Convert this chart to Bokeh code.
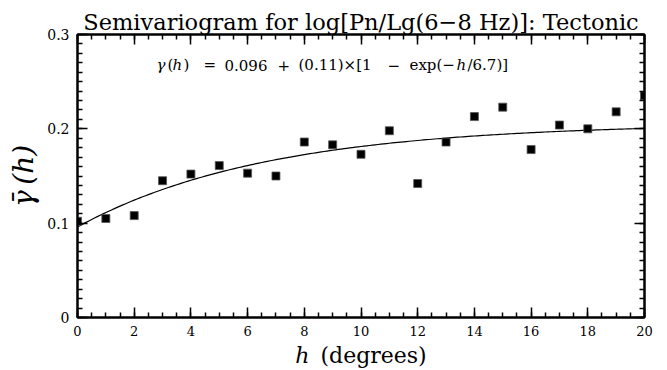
import numpy as np
from bokeh.plotting import figure
from bokeh.models import LinearAxis, FixedTicker, Label, Range1d
from bokeh.embed import file_html
from bokeh.resources import INLINE

# ---------------- data ----------------
h_lags = list(range(21))
gamma_bar = [0.102, 0.105, 0.108, 0.145, 0.152, 0.161, 0.153, 0.150, 0.186, 0.183,
             0.173, 0.198, 0.142, 0.186, 0.213, 0.223, 0.178, 0.204, 0.200, 0.218, 0.235]

# exponential model parameters (from the annotation)
nugget = 0.096
partial_sill = 0.11
range_param = 6.7

x_ticks = [0, 2, 4, 6, 8, 10, 12, 14, 16, 18, 20]
x_minor = [i * 0.5 for i in range(41)]
y_ticks = [0, 0.1, 0.2, 0.3]
y_tick_labels = ["0", "0.1", "0.2", "0.3"]
y_minor = [round(i * 0.01, 2) for i in range(31)]

title_text = "Semivariogram for log[Pn/Lg(6\u22128 Hz)]: Tectonic"
x_label = "\u210e\u2002(degrees)"
y_label = "\u03b3\u0304\u2009(h)"
FONT = "DejaVu Serif"

# model curve
h_curve = np.linspace(0, 20, 201)
g_curve = nugget + partial_sill * (1 - np.exp(-h_curve / range_param))

p = figure(width=667, height=370, x_range=Range1d(0, 20), y_range=Range1d(0, 0.3),
           output_backend="svg", toolbar_location=None, title=title_text,
           min_border_left=77, min_border_right=23, min_border_top=34, min_border_bottom=53)
p.grid.visible = False
p.outline_line_color = "black"
p.outline_line_width = 2
p.background_fill_color = "white"
p.border_fill_color = "white"

p.title.text_font = FONT
p.title.text_font_size = "22.5px"
p.title.text_font_style = "normal"
p.title.text_color = "black"
p.title.align = "center"
p.title.standoff = 0

def style_axis(ax, ticks, minor, show_labels, size="13px"):
    ax.ticker = FixedTicker(ticks=ticks, minor_ticks=minor)
    ax.axis_line_width = 2
    ax.axis_line_color = "black"
    ax.major_tick_in = 10
    ax.major_tick_out = 0
    ax.minor_tick_in = 5
    ax.minor_tick_out = 0
    ax.major_tick_line_width = 1.5
    ax.minor_tick_line_width = 1.5
    ax.major_label_text_font = FONT
    ax.major_label_text_color = "black"
    if show_labels:
        ax.major_label_text_font_size = size
    else:
        ax.major_label_text_font_size = "1px"
        ax.major_label_text_color = None
        ax.major_label_standoff = 0

style_axis(p.xaxis[0], x_ticks, x_minor, True, "13px")
style_axis(p.yaxis[0], y_ticks, y_minor, True, "14px")
p.xaxis[0].major_label_standoff = 8
p.yaxis[0].major_label_standoff = 8
p.yaxis[0].major_label_overrides = {t: s for t, s in zip(y_ticks, y_tick_labels)}

p.xaxis[0].axis_label = x_label
p.xaxis[0].axis_label_text_font = FONT
p.xaxis[0].axis_label_text_font_style = "normal"
p.xaxis[0].axis_label_text_font_size = "22px"
p.xaxis[0].axis_label_text_color = "black"
p.xaxis[0].axis_label_standoff = 4

p.yaxis[0].axis_label = y_label
p.yaxis[0].axis_label_text_font = FONT
p.yaxis[0].axis_label_text_font_style = "italic"
p.yaxis[0].axis_label_text_font_size = "28px"
p.yaxis[0].axis_label_text_color = "black"
p.yaxis[0].axis_label_standoff = 4

top = LinearAxis()
right = LinearAxis()
style_axis(top, x_ticks, x_minor, False)
style_axis(right, y_ticks, y_minor, False)
p.add_layout(top, "above")
p.add_layout(right, "right")

# model curve and data
p.line(h_curve, g_curve, line_color="black", line_width=1.2)
p.scatter(h_lags, gamma_bar, marker="square", size=8, fill_color="black",
          line_color="#555555", line_width=0.8)

# formula annotation (pieces, pixel offsets from the frame's left edge)
pieces = [("\u03b3", 79, "italic"), ("(", 90, "normal"), ("h", 95, "italic"), (")", 106, "normal"),
          ("=", 126, "normal"), ("0.096", 147, "normal"), ("+", 200, "normal"),
          ("(0.11)\u00d7[1", 221, "normal"), ("\u2212", 310, "normal"), ("exp(\u2212", 332, "normal"),
          ("h", 379, "italic"), ("/6.7)]", 390, "normal")]
for txt, off, sty in pieces:
    p.add_layout(Label(x=0, y=0.2675, x_offset=off, text=txt, text_font=FONT, text_font_size="15px",
                       text_font_style=sty, text_baseline="middle", text_align="left", text_color="black"))

open("out.html", "w").write(file_html(p, INLINE))
